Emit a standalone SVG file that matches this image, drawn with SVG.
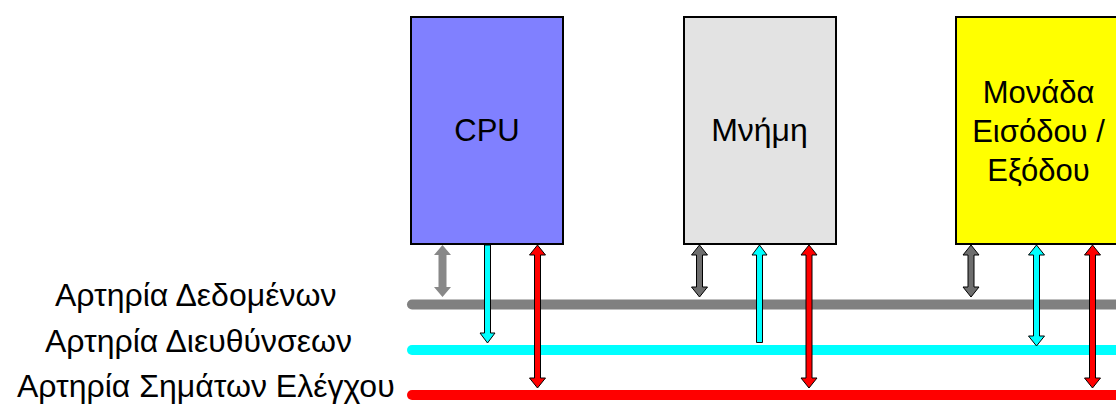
<svg xmlns="http://www.w3.org/2000/svg" width="1116" height="405" viewBox="0 0 1116 405">
<style>
text{font-family:"Liberation Sans",Arial,sans-serif;font-size:31px;fill:#000}
.lbl{font-size:32px}
.box{stroke:#000;stroke-width:2}
.bus{stroke-width:10;stroke-linecap:round;fill:none}
.ag{fill:#888888;stroke:none}
.ag2{fill:#6e6e6e;stroke:#000;stroke-width:1}
.ac{fill:#00ffff;stroke:#000;stroke-width:1}
.ar{fill:#ff0000;stroke:#000;stroke-width:1}
</style>
<rect width="1116" height="405" fill="#fff"/>
<g id="labels">
<text class="lbl" x="55" y="306">Αρτηρία Δεδομένων</text>
<text class="lbl" x="45" y="352">Αρτηρία Διευθύνσεων</text>
<text class="lbl" x="17" y="397">Αρτηρία Σημάτων Ελέγχου</text>
</g>
<g id="buses">
<line class="bus" x1="412" y1="304.5" x2="1130" y2="304.5" stroke="#808080"/>
<line class="bus" x1="412" y1="350" x2="1130" y2="350" stroke="#00ffff"/>
<line class="bus" x1="412" y1="395" x2="1130" y2="395" stroke="#ff0000"/>
</g>
<g id="cpu">
<rect class="box" x="411" y="17" width="152" height="227" fill="#8080ff"/>
<text x="487" y="141" text-anchor="middle">CPU</text>
</g>
<g id="memory">
<rect class="box" x="684" y="17" width="152" height="227" fill="#e3e3e3"/>
<text class="lbl" x="759.5" y="141" text-anchor="middle">Μνήμη</text>
</g>
<g id="io">
<rect class="box" x="956" y="17" width="166" height="227" fill="#ffff00"/>
<text x="1038.5" y="103" text-anchor="middle">Μονάδα</text>
<text x="1038.5" y="142" text-anchor="middle">Εισόδου /</text>
<text x="1038.5" y="181" text-anchor="middle">Εξόδου</text>
</g>
<g id="connectors">
<polygon class="ag" points="442.5,245 451,255 446.5,255 446.5,287 451,287 442.5,297 434,287 438.5,287 438.5,255 434,255"/>
<polygon class="ac" points="484.5,245 490.5,245 490.5,333 495,333 487.5,343 480,333 484.5,333"/>
<polygon class="ar" points="537.5,245 545.5,255 540.5,255 540.5,378 545.5,378 537.5,388 529.5,378 534.5,378 534.5,255 529.5,255"/>
<polygon class="ag2" points="699.5,245 707.5,255 702.5,255 702.5,287 707.5,287 699.5,297 691.5,287 696.5,287 696.5,255 691.5,255"/>
<polygon class="ac" points="759.5,245 767,255 762.5,255 762.5,342.5 756.5,342.5 756.5,255 752,255"/>
<polygon class="ar" points="809,245 817,255 812,255 812,378 817,378 809,388 801,378 806,378 806,255 801,255"/>
<polygon class="ag2" points="971,245 979,255 974,255 974,287 979,287 971,297 963,287 968,287 968,255 963,255"/>
<polygon class="ac" points="1036.5,245 1044.5,255 1039.5,255 1039.5,336 1044.5,336 1036.5,346 1028.5,336 1033.5,336 1033.5,255 1028.5,255"/>
<polygon class="ar" points="1092.5,245 1100.5,255 1095.5,255 1095.5,378 1100.5,378 1092.5,388 1084.5,378 1089.5,378 1089.5,255 1084.5,255"/>
</g>
</svg>
